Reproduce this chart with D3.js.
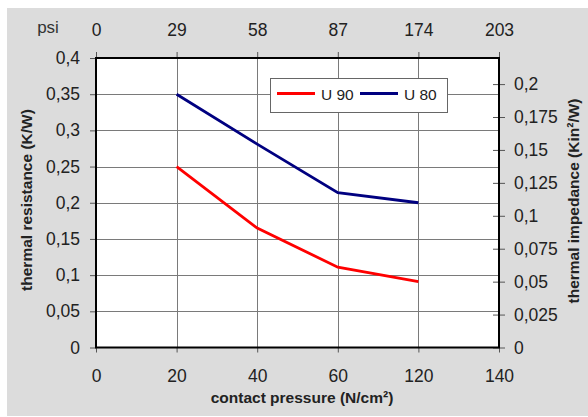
<!DOCTYPE html>
<html>
<head>
<meta charset="utf-8">
<script src="https://cdn.jsdelivr.net/npm/d3@7"></script>
<style>
  html, body { margin: 0; padding: 0; background: #fff; }
  svg { display: block; font-family: "Liberation Sans", Arial, sans-serif; }
</style>
</head>
<body>
<svg id="chart" width="588" height="417"></svg>
<script>
// contact pressure categories (N/cm²) and matching psi labels on top
const pressure = ["0", "20", "40", "60", "120", "140"];
const psi = ["0", "29", "58", "87", "174", "203"];

// thermal resistance (K/W)
const u90 = [
  { p: "20", v: 0.25 },
  { p: "40", v: 0.165 },
  { p: "60", v: 0.111 },
  { p: "120", v: 0.091 }
];
const u80 = [
  { p: "20", v: 0.35 },
  { p: "40", v: 0.281 },
  { p: "60", v: 0.214 },
  { p: "120", v: 0.2 }
];

const leftTicks = [0, 0.05, 0.1, 0.15, 0.2, 0.25, 0.3, 0.35, 0.4];
const rightTicks = [0, 0.025, 0.05, 0.075, 0.1, 0.125, 0.15, 0.175, 0.2];

const svg = d3.select("#chart");
const pl = 96, pr = 499, pt = 58, pb = 347.5;

// grey backdrop
svg.append("rect")
  .attr("x", 7).attr("y", 8)
  .attr("width", 581).attr("height", 408)
  .attr("fill", "#dcdcdc");

const x = d3.scalePoint().domain(pressure).range([pl, pr]);
const y = d3.scaleLinear().domain([0, 0.4]).range([pb, pt]);
const y2 = d3.scaleLinear().domain([0, 0.2198]).range([pb, pt]);

const fmt = d => String(+d.toFixed(3)).replace(".", ",");

svg.append("rect")
  .attr("x", pl).attr("y", pt)
  .attr("width", pr - pl).attr("height", pb - pt)
  .attr("fill", "#fff");

// grid
const grid = svg.append("g").attr("stroke", "#7a7a7a").attr("stroke-width", 1);
grid.selectAll("line.h")
  .data(leftTicks.slice(1, -1))
  .join("line")
  .attr("x1", pl).attr("x2", pr)
  .attr("y1", d => Math.round(y(d)) + 0.5).attr("y2", d => Math.round(y(d)) + 0.5);
grid.selectAll("line.v")
  .data(pressure.slice(1, -1))
  .join("line")
  .attr("x1", d => Math.round(x(d)) + 0.5).attr("x2", d => Math.round(x(d)) + 0.5)
  .attr("y1", pt).attr("y2", pb);

// axes
const styleAxis = g => {
  g.select(".domain").remove();
  g.selectAll(".tick line").attr("stroke", "#555");
  g.selectAll(".tick text").attr("fill", "#222").attr("font-size", 17.5);
};

svg.append("g")
  .attr("transform", `translate(${pl},0)`)
  .call(d3.axisLeft(y).tickValues(leftTicks).tickFormat(fmt).tickSize(6).tickPadding(10))
  .call(styleAxis);

svg.append("g")
  .attr("transform", `translate(${pr},0)`)
  .call(d3.axisRight(y2).tickValues(rightTicks).tickFormat(fmt).tickSize(6).tickPadding(9))
  .call(styleAxis)
  .call(g => g.selectAll(".tick line").attr("x1", -6));

svg.append("g")
  .attr("transform", `translate(0,${pb})`)
  .call(d3.axisBottom(x).tickSize(5).tickPadding(17.5))
  .call(styleAxis);

svg.append("g")
  .attr("transform", `translate(0,${pt})`)
  .call(d3.axisTop(x).tickFormat((d, i) => psi[i]).tickSize(6).tickPadding(16))
  .call(styleAxis);

svg.append("text")
  .attr("x", 48).attr("y", 33)
  .attr("text-anchor", "middle")
  .attr("font-size", 17).attr("fill", "#333")
  .text("psi");

// plot frame
svg.append("rect")
  .attr("x", pl).attr("y", pt)
  .attr("width", pr - pl).attr("height", pb - pt)
  .attr("fill", "none").attr("stroke", "#000").attr("stroke-width", 2);

// series
const line = d3.line().x(d => x(d.p)).y(d => y(d.v));
svg.append("path").datum(u90)
  .attr("d", line).attr("fill", "none")
  .attr("stroke", "#ff0000").attr("stroke-width", 2.8);
svg.append("path").datum(u80)
  .attr("d", line).attr("fill", "none")
  .attr("stroke", "#000080").attr("stroke-width", 2.8);

// axis titles
svg.append("text")
  .attr("x", 302).attr("y", 403)
  .attr("text-anchor", "middle")
  .attr("font-size", 15.5).attr("font-weight", "bold").attr("fill", "#222")
  .text("contact pressure (N/cm²)");

svg.append("text")
  .attr("transform", "translate(32,200) rotate(-90)")
  .attr("text-anchor", "middle")
  .attr("font-size", 15.5).attr("font-weight", "bold").attr("fill", "#222")
  .text("thermal resistance (K/W)");

svg.append("text")
  .attr("transform", "translate(578.5,201) rotate(-90)")
  .attr("text-anchor", "middle")
  .attr("font-size", 15.5).attr("font-weight", "bold").attr("fill", "#222")
  .text("thermal impedance (Kin²/W)");

// legend
const legend = svg.append("g").attr("transform", "translate(270,78)");
legend.append("rect")
  .attr("x", 0.5).attr("y", 0.5)
  .attr("width", 177).attr("height", 34)
  .attr("fill", "#fff").attr("stroke", "#666").attr("stroke-width", 1);
const items = [
  { name: "U 90", color: "#ff0000", x0: 7 },
  { name: "U 80", color: "#000080", x0: 90 }
];
items.forEach(it => {
  legend.append("line")
    .attr("x1", it.x0).attr("x2", it.x0 + 38)
    .attr("y1", 15.5).attr("y2", 15.5)
    .attr("stroke", it.color).attr("stroke-width", 3);
  legend.append("text")
    .attr("x", it.x0 + 44).attr("y", 21.5)
    .attr("font-size", 15.5).attr("fill", "#222")
    .text(it.name);
});
</script>
</body>
</html>
